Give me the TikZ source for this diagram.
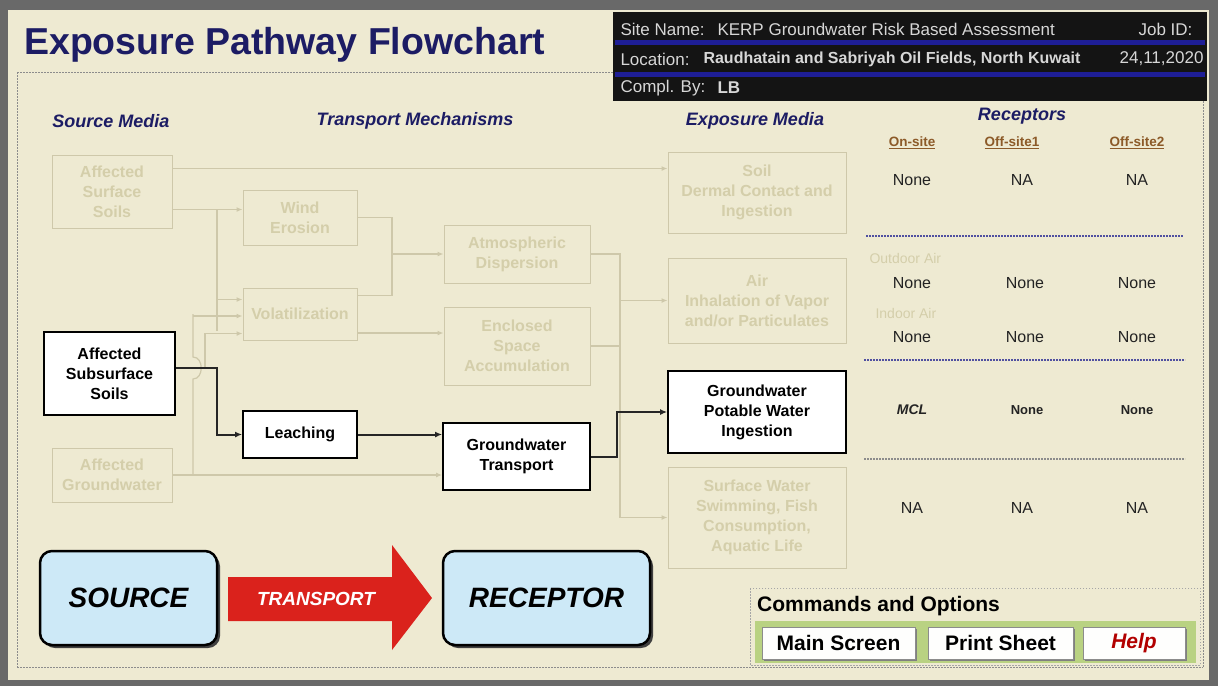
\documentclass[tikz,border=0pt]{standalone}
\usepackage{fontspec}
\setmainfont{Liberation Sans}
\usetikzlibrary{arrows.meta,shadows,calc}
\definecolor{bg}{RGB}{238,234,210}
\definecolor{frame}{RGB}{105,105,105}
\definecolor{fadeline}{RGB}{206,200,170}
\definecolor{fadetext}{RGB}{212,206,170}
\definecolor{navy}{RGB}{28,28,100}
\definecolor{hdrblue}{RGB}{30,30,150}
\definecolor{hdrtext}{RGB}{215,215,215}
\definecolor{skyfill}{RGB}{205,233,247}
\definecolor{arrowred}{RGB}{218,34,28}
\definecolor{brownhdr}{RGB}{140,90,40}
\definecolor{bandgreen}{RGB}{185,210,130}
\definecolor{valtext}{RGB}{35,35,35}
\definecolor{sepblue}{RGB}{80,80,160}
\tikzset{
  fadebox/.style={draw=fadeline, line width=1pt, fill=bg, align=center, text=fadetext,
    font=\fontsize{16}{20}\selectfont\bfseries, inner sep=0pt},
  activebox/.style={draw=black, line width=1.8pt, fill=white, align=center, text=black,
    font=\fontsize{16}{20}\selectfont\bfseries, inner sep=0pt},
  fadeln/.style={draw=fadeline, line width=1.2pt},
  fadearr/.style={fadeln, -{Latex[length=6pt,width=5pt]}},
  darkln/.style={draw=black!85, line width=2pt},
  darkarr/.style={darkln, -{Latex[length=7pt,width=6pt]}},
  colhdr/.style={text=navy, font=\fontsize{18}{20}\selectfont\bfseries\itshape},
  subhdr/.style={text=brownhdr, font=\fontsize{13.5}{15}\selectfont\bfseries},
  val/.style={text=valtext, font=\fontsize{16}{18}\selectfont},
  fadelabel/.style={text=fadetext, font=\fontsize{14}{16}\selectfont, anchor=west},
  hdr/.style={text=hdrtext, font=\fontsize{17}{20}\selectfont, anchor=west},
  skybox/.style={draw=black, line width=2.5pt, fill=skyfill, rounded corners=12pt,
    minimum width=177pt, minimum height=94pt, font=\fontsize{28}{30}\selectfont\bfseries\itshape,
    drop shadow={shadow xshift=3pt, shadow yshift=-3pt, fill=black!75, opacity=1}},
  button/.style={draw=black!45, line width=1pt, fill=white!96!bg, minimum height=32pt,
    font=\fontsize{21}{24}\selectfont\bfseries,
    drop shadow={shadow xshift=2pt, shadow yshift=-2pt, fill=black!50, opacity=1}},
  dotline/.style={draw=black!45, line width=1pt, dash pattern=on 1.5pt off 1.5pt},
}
\begin{document}
\begin{tikzpicture}[x=1pt,y=-1pt]
\useasboundingbox (0,0) rectangle (1218,686);
\fill[frame] (0,0) rectangle (1218,686);
\fill[bg] (8,10) rectangle (1209,680);

% title
\node[anchor=west, text=navy, font=\fontsize{37.5}{40}\selectfont\bfseries, inner sep=0pt] (title) at (24,45) {Exposure Pathway Flowchart};
\draw[dotline] (17,72) -- (613,72);
\draw[dotline] (17,72) -- (17,667);
\draw[dotline] (17,667) -- (1203,667);
\draw[dotline] (1203,101) -- (1203,667);

% header box
\fill[black!92] (613,12) rectangle (1207,101);
\fill[hdrblue] (615,40) rectangle (1205,45);
\fill[hdrblue] (615,72) rectangle (1205,77);
\node[hdr] (h1a) at (617,29) {Site Name:};
\node[hdr] (h1b) at (714,29) {KERP Groundwater Risk Based Assessment};
\node[hdr, anchor=east] (h1c) at (1196,29) {Job ID:};
\node[hdr] (h2a) at (617,59) {Location:};
\node[hdr, font=\fontsize{16}{20}\selectfont\bfseries] (h2b) at (700,59) {Raudhatain and Sabriyah Oil Fields, North Kuwait};
\node[hdr, anchor=east] (h2c) at (1207,59) {24,11,2020};
\node[hdr] (h3a) at (617,88) {Compl. By:};
\node[hdr, font=\fontsize{17}{20}\selectfont\bfseries] (h3b) at (714,88) {LB};

% column headers
\node[colhdr] (chs) at (111,121) {Source Media};
\node[colhdr] (cht) at (415,121) {Transport Mechanisms};
\node[colhdr] (che) at (755,121) {Exposure Media};
\node[colhdr] (chr) at (1022,116) {Receptors};
\node[subhdr] (r1) at (912,143) {\underline{On-site}};
\node[subhdr] (r2) at (1012,143) {\underline{Off-site1}};
\node[subhdr] (r3) at (1137,143) {\underline{Off-site2}};

% boxes
\node[fadebox, minimum width=120pt, minimum height=73pt] (surf) at (112,191.5) {Affected\\Surface\\Soils};
\node[fadebox, minimum width=114pt, minimum height=55pt] (wind) at (300,217.5) {Wind\\Erosion};
\node[fadebox, minimum width=146pt, minimum height=58pt] (atmo) at (517,254) {Atmospheric\\Dispersion};
\node[fadebox, minimum width=178pt, minimum height=81pt] (soil) at (757,192.5) {Soil\\Dermal Contact and\\Ingestion};
\node[fadebox, minimum width=114pt, minimum height=52pt] (volat) at (300,314) {Volatilization};
\node[fadebox, minimum width=146pt, minimum height=78pt] (encl) at (517,346) {Enclosed\\Space\\Accumulation};
\node[fadebox, minimum width=178pt, minimum height=85pt] (air) at (757,300.5) {Air\\Inhalation of Vapor\\and/or Particulates};
\node[fadebox, minimum width=120pt, minimum height=54pt] (agw) at (112,475) {Affected\\Groundwater};
\node[fadebox, minimum width=178pt, minimum height=101pt] (surfw) at (757,517.5) {Surface Water\\Swimming, Fish\\Consumption,\\Aquatic Life};
\node[activebox, minimum width=131pt, minimum height=83pt] (subs) at (109.5,373.5) {Affected\\Subsurface\\Soils};
\node[activebox, minimum width=114pt, minimum height=47pt] (leach) at (300,434.5) {Leaching};
\node[activebox, minimum width=147pt, minimum height=67pt] (gwt) at (516.5,456.5) {Groundwater\\Transport};
\node[activebox, minimum width=178pt, minimum height=82pt] (gwp) at (757,412) {Groundwater\\Potable Water\\Ingestion};

% trunk coordinates
\coordinate (tkA) at (217,0);
\coordinate (tkG) at (193,0);
\coordinate (tkS) at (205,0);
\coordinate (tkB) at (392,0);
\coordinate (tkC) at (620,0);
\coordinate (tkD) at (617,0);

% faded connectors
\draw[fadearr] ([yshift=23pt]surf.east) coordinate (s1) -- (s1 -| soil.west);
\draw[fadearr] ([yshift=-18pt]surf.east) coordinate (s2) -- (s2 -| wind.west);
\draw[fadeln] (s2 -| tkA) -- (tkA |- subs.north);
\draw[fadearr] (tkA |- volat.north) ++(0,12) coordinate (v0) -- (v0 -| volat.west);
\draw[fadeln] (tkG |- agw.east) -- ++(0,-96) .. controls ++(11,0) and ++(11,0) .. ++(0,-22) coordinate (g1) -- (g1 |- volat.west);
\draw[fadearr] (tkG |- volat.west) ++(0,2) coordinate (v1) -- (v1 -| volat.west);
\draw[fadearr] ([yshift=6pt]subs.east -| tkS) -- ++(0,-34) coordinate (v2) -- (v2 -| volat.west);
\draw[fadearr] (agw.east) -- (agw.east -| gwt.west);
\draw[fadeln] (wind.east) -- (wind.east -| tkB) -- (tkB |- volat.north) ++(0,8) coordinate (v3);
\draw[fadeln] (v3 -| volat.east) -- (v3);
\draw[fadeln] (wind.east -| tkB) -- (v3);
\draw[fadearr] (tkB |- atmo.west) -- (atmo.west);
\draw[fadearr] ([yshift=-19pt]volat.east) coordinate (v4) -- (v4 -| encl.west);
\draw[fadeln] (atmo.east) -- (atmo.east -| tkC) -- (tkC |- surfw.west);
\draw[fadeln] (encl.east) -- (encl.east -| tkC);
\draw[fadearr] (tkC |- air.west) -- (air.west);
\draw[fadearr] (tkC |- surfw.west) -- (surfw.west);

% active connectors
\draw[darkarr] ([yshift=6pt]subs.east) -| (tkA |- leach.west) -- (leach.west);
\draw[darkarr] (leach.east) -- (leach.east -| gwt.west);
\draw[darkarr] (gwt.east) -| (tkD |- gwp.west) -- (gwp.west);

% receptor table
\node[val] (a1) at (912,180) {None};
\node[val] (a2) at (1022,180) {NA};
\node[val] (a3) at (1137,180) {NA};
\draw[draw=sepblue, line width=1.2pt, dash pattern=on 2pt off 1pt] (866,236) -- (1183,236);
\node[fadelabel] (oa) at (866,258) {Outdoor Air};
\node[val] (b1) at (912,283) {None};
\node[val] (b2) at (1025,283) {None};
\node[val] (b3) at (1137,283) {None};
\node[fadelabel] (ia) at (872,313) {Indoor Air};
\node[val] (c1) at (912,337) {None};
\node[val] (c2) at (1025,337) {None};
\node[val] (c3) at (1137,337) {None};
\draw[draw=sepblue, line width=1.2pt, dash pattern=on 2pt off 1pt] (864,360) -- (1185,360);
\node[val, font=\fontsize{14}{16}\selectfont\bfseries\itshape] (d1) at (912,410) {MCL};
\node[val, font=\fontsize{13}{16}\selectfont\bfseries] (d2) at (1027,410) {None};
\node[val, font=\fontsize{13}{16}\selectfont\bfseries] (d3) at (1137,410) {None};
\draw[draw=black!45, line width=1.2pt, dash pattern=on 2pt off 1pt] (864,459) -- (1185,459);
\node[val] (e1) at (912,508) {NA};
\node[val] (e2) at (1022,508) {NA};
\node[val] (e3) at (1137,508) {NA};

% source - transport - receptor
\node[skybox] (source) at (128.5,598) {SOURCE};
\node[skybox, minimum width=207pt] (receptor) at (546.5,598) {RECEPTOR};
\fill[arrowred] (228,577) -- (392,577) -- (392,545) -- (432,598) -- (392,650) -- (392,621) -- (228,621) -- cycle;
\node[text=white, font=\fontsize{19}{20}\selectfont\bfseries\itshape] (trlabel) at (316,599) {TRANSPORT};

% commands and options
\draw[dotline, draw=black!35] (750,588) rectangle (1200,665);
\node[anchor=west, font=\fontsize{21}{24}\selectfont\bfseries, inner sep=0pt] (cmd) at (757,606) {Commands and Options};
\fill[bandgreen] (755,621) rectangle (1196,663);
\node[button, minimum width=153pt] (bmain) at (838.5,643) {Main Screen};
\node[button, minimum width=145pt] (bprint) at (1000.5,643) {Print Sheet};
\node[button, minimum width=102pt, text=red!70!black, font=\fontsize{21}{24}\selectfont\bfseries\itshape] (bhelp) at (1134,643) {Help};
\end{tikzpicture}
\end{document}
